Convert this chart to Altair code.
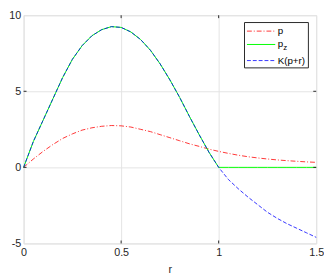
import altair as alt
import pandas as pd

# ---- data ----
r = [0.0, 0.05, 0.10, 0.15, 0.20, 0.25, 0.30, 0.35, 0.40, 0.45, 0.50,
     0.55, 0.60, 0.65, 0.70, 0.75, 0.80, 0.85, 0.90, 0.95, 1.00,
     1.05, 1.10, 1.15, 1.20, 1.25, 1.30, 1.35, 1.40, 1.45, 1.50]
p_vals = [0.0, 0.55, 1.05, 1.5, 1.9, 2.2, 2.45, 2.6, 2.7, 2.75, 2.73,
          2.65, 2.5, 2.35, 2.15, 1.95, 1.75, 1.55, 1.38, 1.2, 1.05,
          0.92, 0.8, 0.7, 0.62, 0.55, 0.49, 0.44, 0.4, 0.36, 0.33]
k_vals = [0.0, 1.7, 3.1, 4.5, 5.9, 7.1, 8.0, 8.65, 9.05, 9.25, 9.2,
          8.9, 8.4, 7.7, 6.8, 5.75, 4.6, 3.35, 2.15, 1.0, 0.0,
          -0.8, -1.4, -1.95, -2.45, -2.95, -3.35, -3.7, -4.0, -4.3, -4.6]
pz_vals = [0.0, 1.7, 3.1, 4.5, 5.9, 7.1, 8.0, 8.65, 9.05, 9.25, 9.2,
           8.9, 8.4, 7.7, 6.8, 5.75, 4.6, 3.35, 2.15, 1.0, 0.0,
           0.0, 0.0, 0.0, 0.0, 0.0, 0.0, 0.0, 0.0, 0.0, 0.0]
series_names = ["p", "pz", "K"]
x_ticks = [0, 0.5, 1, 1.5]
y_ticks = [-5, 0, 5, 10]
inner_x_ticks = [0.5, 1.0]
inner_y_ticks = [0, 5]

rows = []
for name, vals in zip(series_names, [p_vals, pz_vals, k_vals]):
    for rv, v in zip(r, vals):
        rows.append({"r": rv, "v": v, "s": name})
df = pd.DataFrame(rows)

W, H = 300, 234
FONT = "Liberation Sans"
FRAME = "#262626"
LW = 0.8

xs = alt.Scale(domain=[0, 1.5], nice=False, zero=False)
ys = alt.Scale(domain=[-5, 10], nice=False, zero=False)

x_enc = alt.X("r:Q", scale=xs, axis=alt.Axis(
    values=x_ticks, format="~g", title="r", grid=True, gridColor="#e3e3e3",
    domain=False, ticks=False, labelFont=FONT, labelFontSize=11,
    labelColor=FRAME, labelPadding=3, titleFont=FONT, titleFontSize=11,
    titleFontWeight="normal", titleColor=FRAME, titlePadding=7,
    labelFlush=False))
y_enc = alt.Y("v:Q", scale=ys, axis=alt.Axis(
    values=y_ticks, labelExpr="'' + datum.value", title=None, grid=True,
    gridColor="#e3e3e3", domain=False, ticks=False, labelFont=FONT,
    labelFontSize=11, labelColor=FRAME, labelPadding=3, labelFlush=False))

base = alt.Chart(df)
line_p = base.transform_filter(alt.datum.s == "p").mark_line(
    color="#ff0000", strokeWidth=LW, strokeDash=[5, 2, 1, 2]).encode(x=x_enc, y=y_enc)
line_pz = base.transform_filter(alt.datum.s == "pz").mark_line(
    color="#00ff00", strokeWidth=LW + 0.2).encode(x=x_enc, y=y_enc)
line_k = base.transform_filter(alt.datum.s == "K").mark_line(
    color="#0000ff", strokeWidth=LW, strokeDash=[4, 2]).encode(x=x_enc, y=y_enc)

# inward ticks (MATLAB style)
xt = pd.DataFrame({"t": inner_x_ticks})
yt = pd.DataFrame({"t": inner_y_ticks})
tick_bottom = alt.Chart(xt).mark_rule(color=FRAME, strokeWidth=1).encode(
    x=alt.X("t:Q", scale=xs), y=alt.value(H - 3), y2=alt.value(H))
tick_top = alt.Chart(xt).mark_rule(color=FRAME, strokeWidth=1).encode(
    x=alt.X("t:Q", scale=xs), y=alt.value(0), y2=alt.value(3))
tick_left = alt.Chart(yt).mark_rule(color=FRAME, strokeWidth=1).encode(
    y=alt.Y("t:Q", scale=ys), x=alt.value(0), x2=alt.value(3))
tick_right = alt.Chart(yt).mark_rule(color=FRAME, strokeWidth=1).encode(
    y=alt.Y("t:Q", scale=ys), x=alt.value(W - 3), x2=alt.value(W))

# legend (drawn manually so that p_z can have a subscript)
one = alt.Data(values=[{"a": 1}])
LX0, LX1, LY0, LY1 = 226.5, 292, 7.5, 54
box = alt.Chart(one).mark_rect(fill="white", stroke=FRAME, strokeWidth=1).encode(
    x=alt.value(LX0), x2=alt.value(LX1), y=alt.value(LY0), y2=alt.value(LY1))
sx0, sx1, tx = LX0 + 2.5, LX0 + 31.5, LX0 + 34
ly = [LY0 + 8.8, LY0 + 22.5, LY0 + 39]
leg_p = alt.Chart(one).mark_rule(color="#ff0000", strokeWidth=LW, strokeDash=[5, 2, 1, 2]).encode(
    x=alt.value(sx0), x2=alt.value(sx1), y=alt.value(ly[0]))
leg_pz = alt.Chart(one).mark_rule(color="#00ff00", strokeWidth=LW + 0.2).encode(
    x=alt.value(sx0), x2=alt.value(sx1), y=alt.value(ly[1]))
leg_k = alt.Chart(one).mark_rule(color="#0000ff", strokeWidth=LW, strokeDash=[4, 2]).encode(
    x=alt.value(sx0), x2=alt.value(sx1), y=alt.value(ly[2]))

def txt(s, x, y, size=10):
    return alt.Chart(one).mark_text(align="left", baseline="alphabetic", font=FONT,
                                    fontSize=size, color="#000000").encode(
        x=alt.value(x), y=alt.value(y), text=alt.value(s))

t_p = txt("p", tx, ly[0] + 2.5)
t_pz = txt("p", tx, ly[1] + 2.5)
t_z = txt("z", tx + 5.6, ly[1] + 5.5, size=8)
t_k = txt("K(p+r)", tx, ly[2] + 3.7)

chart = alt.layer(
    line_p, line_pz, line_k,
    tick_bottom, tick_top, tick_left, tick_right,
    box, leg_p, leg_pz, leg_k, t_p, t_pz, t_z, t_k,
).properties(
    width=W, height=H,
    autosize=alt.AutoSizeParams(type="none"),
    padding={"left": 16, "top": 4, "right": 8, "bottom": 31},
).configure_view(stroke=FRAME, strokeWidth=1).configure(background="white")

chart.save("out.html", embed_options={"renderer": "svg", "actions": False})
